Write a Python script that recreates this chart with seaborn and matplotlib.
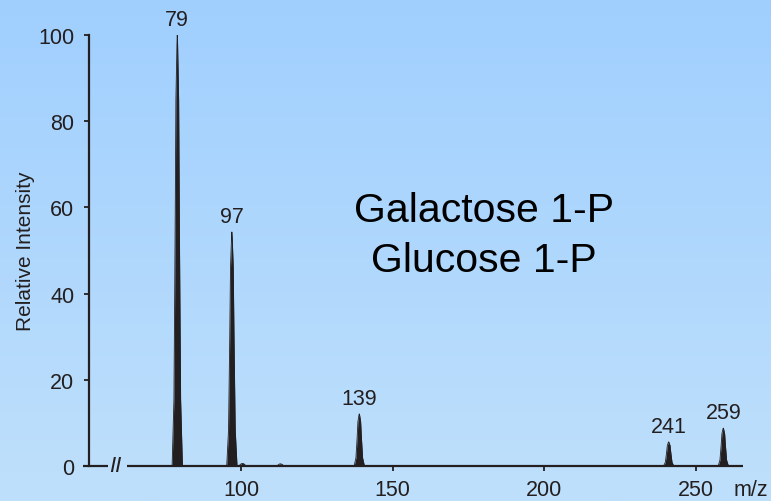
import numpy as np
import pandas as pd
import matplotlib
matplotlib.use("Agg")
import matplotlib.pyplot as plt
import seaborn as sns
from matplotlib.colors import LinearSegmentedColormap

# ---- data ----
peak_mz = [79, 97, 139, 241, 259]
peak_intensity = [100, 54.3, 12.1, 5.6, 8.8]
peak_labels = ["79", "97", "139", "241", "259"]
minor_mz = [100.5, 113]
minor_intensity = [0.6, 0.5]
x_ticks = [100, 150, 200, 250]
y_ticks = [0, 20, 40, 60, 80, 100]
title_lines = ["Galactose 1-P", "Glucose 1-P"]
y_label = "Relative Intensity"
x_unit = "m/z"

# ---- style ----
sns.set_theme(style="ticks")
plt.rcParams['font.family'] = ['Liberation Sans', 'DejaVu Sans']
INK = "#231f20"
BG_TOP = "#a0cfff"
BG_BOTTOM = "#bfe0fb"

# peak profile template (relative m/z offset, relative height)
prof_dx = np.array([-1.7, -1.1, -0.71, -0.45, -0.1, 0, 0.1, 0.45, 0.71, 1.1, 1.7])
prof_h = np.array([0, 0.155, 0.54, 0.85, 0.98, 1, 0.98, 0.85, 0.54, 0.155, 0])

rows = []
all_mz = peak_mz + minor_mz
all_int = peak_intensity + minor_intensity
for i, (c, h) in enumerate(zip(all_mz, all_int)):
    for dx, fh in zip(prof_dx, prof_h):
        rows.append({"peak": i, "mz": c + dx, "intensity": h * fh})
df = pd.DataFrame(rows)

fig = plt.figure(figsize=(7.71, 5.02), dpi=100)

# gradient background
bg = fig.add_axes([0, 0, 1, 1], zorder=-10)
grad = np.linspace(0, 1, 256).reshape(-1, 1)
bg.imshow(grad, aspect='auto', extent=[0, 1, 0, 1],
          cmap=LinearSegmentedColormap.from_list('bg', [BG_TOP, BG_BOTTOM]))
bg.axis('off')

ax = fig.add_axes([89 / 771, 1 - 467 / 502, 654 / 771, 431 / 502])
ax.set_facecolor('none')

for i, g in df.groupby("peak"):
    ax.fill_between(g["mz"], 0, g["intensity"], color=INK, lw=0, zorder=3)
sns.lineplot(data=df, x="mz", y="intensity", units="peak", estimator=None,
             color=INK, lw=0.6, ax=ax, legend=False, zorder=3)

for c, h, lab in zip(peak_mz, peak_intensity, peak_labels):
    ax.annotate(lab, (c, h), xytext=(0, 3.5), textcoords='offset points',
                ha='center', va='bottom', fontsize=15.5, color=INK,
                annotation_clip=False)

ax.set_xlim(49.9, 265.5)
ax.set_ylim(0, 100)
ax.set_xticks(x_ticks)
ax.set_yticks(y_ticks)
ax.tick_params(axis='both', labelsize=15.5, colors=INK, length=3.6, width=1.3)
ax.tick_params(axis='y', pad=7)
ax.tick_params(axis='x', pad=5.5)

for s in ['top', 'right', 'bottom']:
    ax.spines[s].set_visible(False)
ax.spines['left'].set_color(INK)
ax.spines['left'].set_linewidth(1.6)

# broken x axis line
ax.plot([47.9, 56.3], [0, 0], color=INK, lw=1.6, clip_on=False,
        solid_capstyle='butt', zorder=4)
ax.plot([62.4, 265.5], [0, 0], color=INK, lw=1.6, clip_on=False,
        solid_capstyle='butt', zorder=4)
ax.text(58.6, 0, "II", style='italic', ha='center', va='center',
        fontsize=16, color=INK, clip_on=False)

ax.set_xlabel("")
ax.set_ylabel(y_label, fontsize=15, color=INK)
ax.yaxis.set_label_coords(-0.0833, 0.5)
ax.text(1.012, -0.0534, x_unit, transform=ax.transAxes, ha='center',
        va='center', fontsize=15.5, color=INK)

fig.text(484 / 771, 1 - 222 / 502, title_lines[0], ha='center',
         va='baseline', fontsize=29.5, color='black')
fig.text(484 / 771, 1 - 272 / 502, title_lines[1], ha='center',
         va='baseline', fontsize=29.5, color='black')

fig.savefig("out.png", dpi=100)
